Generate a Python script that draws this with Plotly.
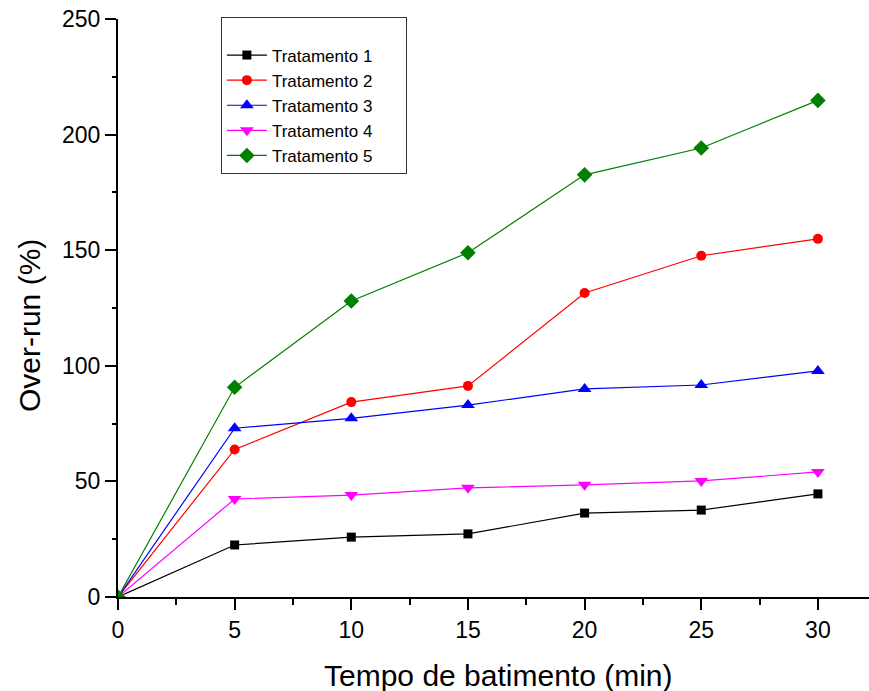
import plotly.graph_objects as go

# Whipping time (min) and over-run (%) for each treatment
tempo = [0, 5, 10, 15, 20, 25, 30]
trat1 = [0, 22.5, 25.9, 27.3, 36.3, 37.6, 44.6]
trat2 = [0, 63.8, 84.3, 91.3, 131.5, 147.6, 154.9]
trat3 = [0, 73.0, 77.3, 83.0, 90.0, 91.7, 97.8]
trat4 = [0, 42.4, 44.1, 47.2, 48.5, 50.2, 54.1]
trat5 = [0, 90.7, 128.0, 148.9, 182.6, 194.2, 214.8]

series = [
    ("Tratamento 1", trat1, "#000000", "square", 9),
    ("Tratamento 2", trat2, "#FF0000", "circle", 10),
    ("Tratamento 3", trat3, "#0000FF", "triangle-up", 12),
    ("Tratamento 4", trat4, "#FF00FF", "triangle-down", 12),
    ("Tratamento 5", trat5, "#008000", "diamond", 12),
]

FONT = "Liberation Sans, Arial, sans-serif"
# trailing blank space keeps the legend frame wide on the right
PAD = "\u00a0" * 6

fig = go.Figure()
for name, vals, color, symbol, size in series:
    fig.add_trace(go.Scatter(
        x=tempo, y=vals, name=name + PAD, mode="lines+markers",
        line=dict(color=color, width=1.2),
        marker=dict(symbol=symbol, size=size, color=color, line=dict(width=0)),
    ))

axis_common = dict(
    showgrid=False, zeroline=False, showline=True,
    linecolor="black", linewidth=2,
    ticks="outside", tickcolor="black", tickwidth=2,
    tickfont=dict(family=FONT, size=23, color="black"),
)

fig.update_xaxes(
    range=[0, 32.19], tickvals=[0, 5, 10, 15, 20, 25, 30], ticklen=11,
    minor=dict(tickvals=[2.5, 7.5, 12.5, 17.5, 22.5, 27.5], ticklen=6,
               tickwidth=2, tickcolor="black", ticks="outside"),
    **axis_common,
)
fig.update_yaxes(
    range=[0, 250], tickvals=[0, 50, 100, 150, 200, 250], ticklen=11,
    minor=dict(tickvals=[25, 75, 125, 175, 225], ticklen=4,
               tickwidth=2, tickcolor="black", ticks="outside"),
    **axis_common,
)

fig.add_annotation(
    text="Tempo de batimento (min)", xref="paper", yref="paper",
    x=0.506, y=-0.135, xanchor="center", yanchor="middle", showarrow=False,
    font=dict(family=FONT, size=30, color="black"),
)
fig.add_annotation(
    text="Over-run (%)", xref="paper", yref="paper",
    x=-0.117, y=0.469, xanchor="center", yanchor="middle", showarrow=False,
    textangle=-90, font=dict(family=FONT, size=30, color="black"),
)

fig.update_layout(
    width=869, height=691,
    margin=dict(l=118, r=0, t=19, b=94),
    paper_bgcolor="white", plot_bgcolor="white",
    showlegend=True,
    legend=dict(
        x=0.137, y=1.0035, xanchor="left", yanchor="top",
        bordercolor="#333333", borderwidth=1, bgcolor="white",
        font=dict(family=FONT, size=17, color="black"),
        title=dict(text=" ", font=dict(size=15)),
        itemwidth=40, tracegroupgap=0,
    ),
)

fig.write_html("out.html")
